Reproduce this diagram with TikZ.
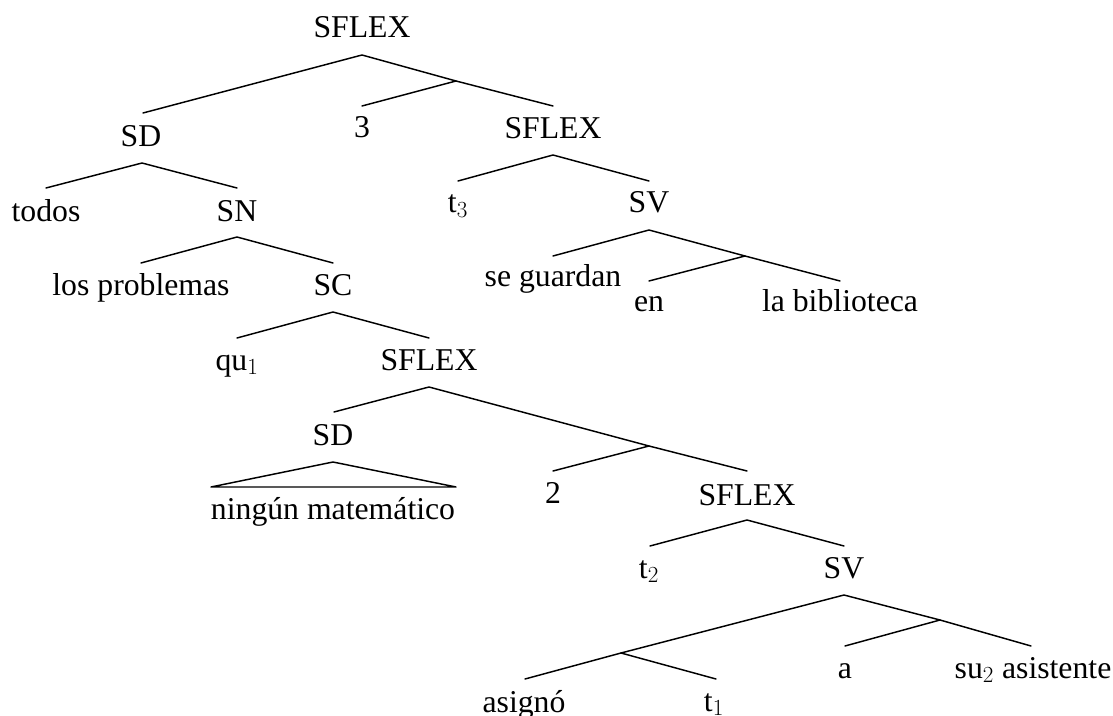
\documentclass[tikz,border=0pt]{standalone}
\usepackage{fontspec}
\setmainfont{Liberation Serif}
\begin{document}
\begin{tikzpicture}[x=0.75pt,y=-0.75pt,
  lbl/.style={anchor=base,inner sep=0pt,font=\fontsize{23.8}{28}\selectfont},
  br/.style={line width=1.1pt,line cap=round,line join=round}]
\useasboundingbox (0,0) rectangle (1113,716);
% ---- labels
\node[lbl] (sflexA) at (362,38) {SFLEX};
\node[lbl] (sdA) at (141,147) {SD};
\node[lbl] (three) at (362,138) {3};
\node[lbl] (sflexB) at (553,139) {SFLEX};
\node[lbl] (todos) at (46,222) {todos};
\node[lbl] (sn) at (237,222) {SN};
\node[lbl] (losprob) at (141,296) {los problemas};
\node[lbl] (sc) at (333,296) {SC};
\node[lbl] (qu) at (237,370) {qu$_1$};
\node[lbl] (sflexC) at (429,370) {SFLEX};
\node[lbl] (sdB) at (333,445) {SD};
\node[lbl] (ningun) at (333,519) {ningún matemático};
\node[lbl] (two) at (553,503) {2};
\node[lbl] (sflexD) at (747,505) {SFLEX};
\node[lbl] (t2) at (649,578) {t$_2$};
\node[lbl] (svB) at (844,578) {SV};
\node[lbl] (asigno) at (524,712) {asignó};
\node[lbl] (t1) at (714,711) {t$_1$};
\node[lbl] (a) at (845,678) {a};
\node[lbl] (su) at (1033,678) {su$_2$ asistente};
\node[lbl] (t3) at (458,213) {t$_3$};
\node[lbl] (svA) at (649,213) {SV};
\node[lbl] (seg) at (553,287) {se guardan};
\node[lbl] (en) at (649,312) {en};
\node[lbl] (labib) at (840,312) {la biblioteca};
% ---- attachment points
\coordinate (sflexA-a) at (362,55);
\coordinate (sdA-t) at (143,113);
\coordinate (barA) at (456,81);
\coordinate (three-t) at (362,106);
\coordinate (sflexB-t) at (553,106);
\coordinate (sdA-a) at (142,163);
\coordinate (todos-t) at (46,188);
\coordinate (sn-t) at (237,188);
\coordinate (sn-a) at (237,237);
\coordinate (losprob-t) at (141,263);
\coordinate (sc-t) at (333,263);
\coordinate (sc-a) at (333,312);
\coordinate (qu-t) at (237,338);
\coordinate (sflexC-t) at (429,338);
\coordinate (sflexC-a) at (429,387);
\coordinate (sdB-t) at (334,412);
\coordinate (barC) at (649,446);
\coordinate (two-t) at (553,471);
\coordinate (sflexD-t) at (747,471);
\coordinate (sdB-a) at (333,462);
\coordinate (triL) at (211,487);
\coordinate (triR) at (456,487);
\coordinate (sflexD-a) at (747,520);
\coordinate (t2-t) at (650,546);
\coordinate (svB-t) at (844,546);
\coordinate (svB-a) at (844,595);
\coordinate (barL) at (621,653);
\coordinate (asigno-t) at (525,679);
\coordinate (t1-t) at (716,679);
\coordinate (barR) at (940,620);
\coordinate (a-t) at (845,646);
\coordinate (su-t) at (1031,646);
\coordinate (sflexB-a) at (553,155);
\coordinate (t3-t) at (458,181);
\coordinate (svA-t) at (649,181);
\coordinate (svA-a) at (649,230);
\coordinate (seg-t) at (553,256);
\coordinate (barS) at (745,256);
\coordinate (en-t) at (649,281);
\coordinate (labib-t) at (840,281);
% ---- branches
\draw[br] (sdA-t) -- (sflexA-a) -- (barA) -- (sflexB-t);
\draw[br] (barA) -- (three-t);
\draw[br] (todos-t) -- (sdA-a) -- (sn-t);
\draw[br] (losprob-t) -- (sn-a) -- (sc-t);
\draw[br] (qu-t) -- (sc-a) -- (sflexC-t);
\draw[br] (sdB-t) -- (sflexC-a) -- (barC) -- (sflexD-t);
\draw[br] (barC) -- (two-t);
\draw[br] (sdB-a) -- (triL) -- (triR) -- cycle;
\draw[br] (t2-t) -- (sflexD-a) -- (svB-t);
\draw[br] (asigno-t) -- (barL) -- (svB-a) -- (barR) -- (su-t);
\draw[br] (barL) -- (t1-t);
\draw[br] (barR) -- (a-t);
\draw[br] (t3-t) -- (sflexB-a) -- (svA-t);
\draw[br] (seg-t) -- (svA-a) -- (barS) -- (labib-t);
\draw[br] (barS) -- (en-t);
\end{tikzpicture}
\end{document}
